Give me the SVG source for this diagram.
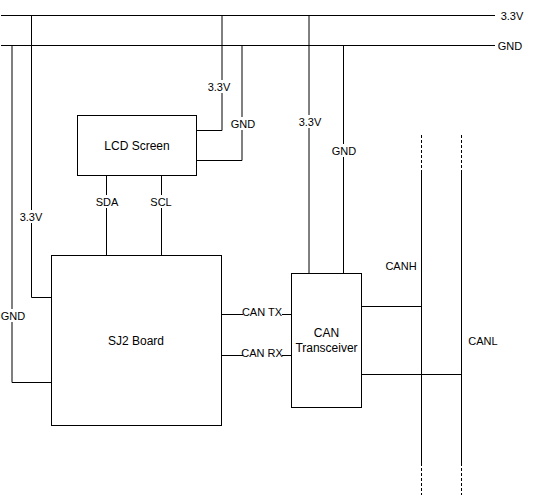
<svg xmlns="http://www.w3.org/2000/svg" width="538" height="497" viewBox="0 0 538 497">
<style>
.box{fill:#fff;stroke:#000;stroke-width:1}
.w{fill:none;stroke:#000;stroke-width:1}
.g{fill:none;stroke:#000;stroke-width:1}
.d{fill:none;stroke:#000;stroke-width:1;stroke-dasharray:3 2}
.nt{font-family:"Liberation Sans",Arial,sans-serif;font-size:12px;fill:#000;text-anchor:middle}
.lt{font-family:"Liberation Sans",Arial,sans-serif;font-size:11px;fill:#000;text-anchor:middle}
.bg{fill:#fff}
</style>
<rect width="538" height="497" fill="#fff"/>
<g id="connectors">
  <path class="w" d="M1,15.5 H495"/>
  <path class="w" d="M1,45.5 H495"/>
  <path class="w" d="M31.5,15.5 V297.5 H51.5"/>
  <path class="g" d="M12,45.5 V382.5 H51.5"/>
  <path class="g" d="M222,15.5 V130.5 H196.5"/>
  <path class="g" d="M242,45.5 V160.5 H196.5"/>
  <path class="w" d="M106.5,175.5 V255.5"/>
  <path class="w" d="M161.5,175.5 V255.5"/>
  <path class="w" d="M221.5,314.5 H291.5"/>
  <path class="w" d="M221.5,355.5 H291.5"/>
  <path class="g" d="M309,15.5 V273.5"/>
  <path class="w" d="M343.5,45.5 V273.5"/>
  <path class="w" d="M361.5,306.5 H421.5"/>
  <path class="w" d="M361.5,374.5 H461.5"/>
  <path class="d" d="M421.5,135 V173"/>
  <path class="w" d="M421.5,173 V463"/>
  <path class="d" d="M421.5,463 V495"/>
  <path class="d" d="M461.5,135 V173"/>
  <path class="w" d="M461.5,173 V463"/>
  <path class="d" d="M461.5,463 V495"/>
</g>
<g id="labels">
  <text class="lt" x="512" y="19.5">3.3V</text>
  <text class="lt" x="510" y="49.5">GND</text>
  <rect class="bg" x="18" y="210" width="26" height="13"/>
  <text class="lt" x="31" y="221">3.3V</text>
  <rect class="bg" x="0" y="309" width="26" height="13"/>
  <text class="lt" x="13" y="320">GND</text>
  <rect class="bg" x="207" y="80" width="26" height="13"/>
  <text class="lt" x="219" y="90.5">3.3V</text>
  <rect class="bg" x="230" y="117" width="26" height="13"/>
  <text class="lt" x="243" y="128">GND</text>
  <rect class="bg" x="95" y="195" width="24" height="13"/>
  <text class="lt" x="107" y="206">SDA</text>
  <rect class="bg" x="150" y="195" width="24" height="13"/>
  <text class="lt" x="161" y="206">SCL</text>
  <rect class="bg" x="243" y="306" width="39" height="12"/>
  <text class="lt" x="262" y="316">CAN TX</text>
  <rect class="bg" x="243" y="347" width="39" height="12"/>
  <text class="lt" x="262" y="357">CAN RX</text>
  <rect class="bg" x="297" y="115" width="26" height="13"/>
  <text class="lt" x="310" y="126">3.3V</text>
  <rect class="bg" x="331" y="144" width="26" height="13"/>
  <text class="lt" x="344" y="155">GND</text>
  <text class="lt" x="401" y="270">CANH</text>
  <text class="lt" x="483" y="345">CANL</text>
</g>
<g id="lcd">
  <rect class="box" x="77.5" y="115.5" width="119" height="60"/>
  <text class="nt" x="137" y="150">LCD Screen</text>
</g>
<g id="sj2">
  <rect class="box" x="51.5" y="255.5" width="170" height="170"/>
  <text class="nt" x="136" y="345">SJ2 Board</text>
</g>
<g id="transceiver">
  <rect class="box" x="291.5" y="273.5" width="70" height="134"/>
  <text class="nt" x="326.5" y="337">CAN</text>
  <text class="nt" x="326.5" y="352">Transceiver</text>
</g>
</svg>
